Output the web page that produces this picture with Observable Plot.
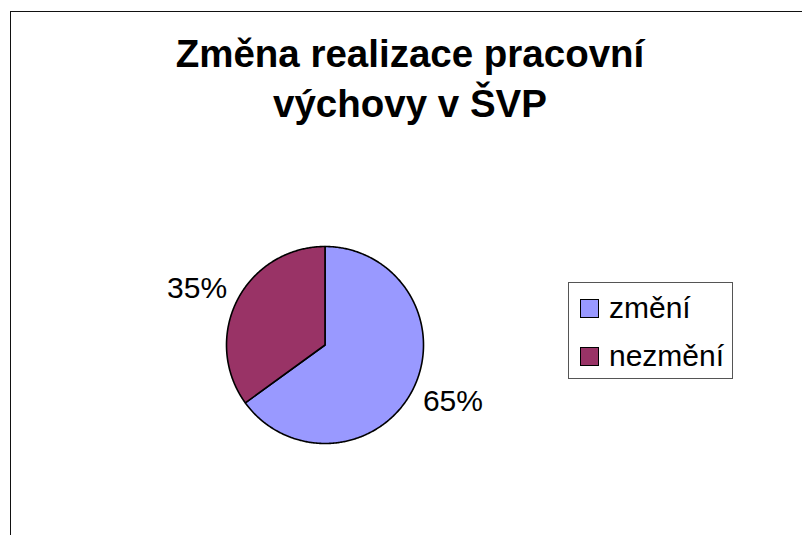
<!DOCTYPE html>
<html>
<head>
<meta charset="utf-8">
<script src="https://cdn.jsdelivr.net/npm/d3@7"></script>
<script src="https://cdn.jsdelivr.net/npm/@observablehq/plot@0.6"></script>
<style>
  html, body { margin: 0; padding: 0; background: #fff; }
  #wrap { position: relative; width: 802px; height: 535px; overflow: hidden; font-family: Arial, "Liberation Sans", sans-serif; }
  #wrap svg { position: absolute; left: 0; top: 0; }
  #frame { position: absolute; left: 10px; top: 11px; width: 800px; height: 530px; border-top: 1.5px solid #111; border-left: 1.5px solid #111; }
  #title { position: absolute; left: 10px; top: 29px; width: 800px; text-align: center; font-weight: bold; font-size: 38.5px; line-height: 50px; color: #000; }
  #legend { position: absolute; left: 568px; top: 282px; width: 163px; height: 95px; border: 1px solid #555; background: #fff; }
  .sw { position: absolute; left: 11px; width: 17px; height: 17px; border: 1px solid #000; }
  .lt { position: absolute; left: 40px; font-size: 30px; line-height: 30px; white-space: nowrap; color: #000; }
</style>
</head>
<body>
<div id="wrap">
  <div id="frame"></div>
  <div id="title">Změna realizace pracovní<br>výchovy v ŠVP</div>
  <div id="legend"></div>
</div>
<script>
const categories = ["změní", "nezmění"];
const values = [65, 35];
const labels = ["65%", "35%"];
const colors = ["#9999FF", "#993366"];

// layout (pixels)
const W = 802, H = 535;
const cx = 324.5, cy = 344.5, R = 98.5;

const pie = d3.pie().sort(null).startAngle(0).endAngle(2 * Math.PI)(values);

// slice outline points in unit-radius data space
const slicePts = [];
pie.forEach((p, i) => {
  const key = categories[i];
  slicePts.push({key, x: 0, y: 0});
  const n = Math.max(2, Math.ceil((p.endAngle - p.startAngle) / 0.01));
  for (let k = 0; k <= n; k++) {
    const a = p.startAngle + (p.endAngle - p.startAngle) * k / n;
    slicePts.push({key, x: Math.sin(a), y: Math.cos(a)});
  }
  slicePts.push({key, x: 0, y: 0});
});

const labelData = pie.map((p, i) => {
  const a = (p.startAngle + p.endAngle) / 2 - 0.055;
  return {label: labels[i], x: 1.42 * Math.sin(a), y: 1.42 * Math.cos(a)};
});

const chart = Plot.plot({
  width: W,
  height: H,
  margin: 0,
  x: {domain: [-cx / R, (W - cx) / R], axis: null},
  y: {domain: [-(H - cy) / R, cy / R], axis: null},
  color: {domain: categories, range: colors},
  style: {background: "transparent", fontFamily: "Arial, 'Liberation Sans', sans-serif"},
  marks: [
    Plot.line(slicePts, {x: "x", y: "y", z: "key", fill: "key", stroke: "#000", strokeWidth: 1.6, strokeLinejoin: "round", curve: "linear"}),
    Plot.text(labelData, {x: "x", y: "y", text: "label", fontSize: 30, fill: "#000"})
  ]
});
document.getElementById("wrap").insertBefore(chart, document.getElementById("frame"));

// legend
const legend = d3.select("#legend");
const tops = [16, 64];
categories.forEach((c, i) => {
  legend.append("div").attr("class", "sw").style("top", tops[i] + "px").style("background", colors[i]);
  legend.append("div").attr("class", "lt").style("top", (tops[i] - 6) + "px").text(c);
});
</script>
</body>
</html>
